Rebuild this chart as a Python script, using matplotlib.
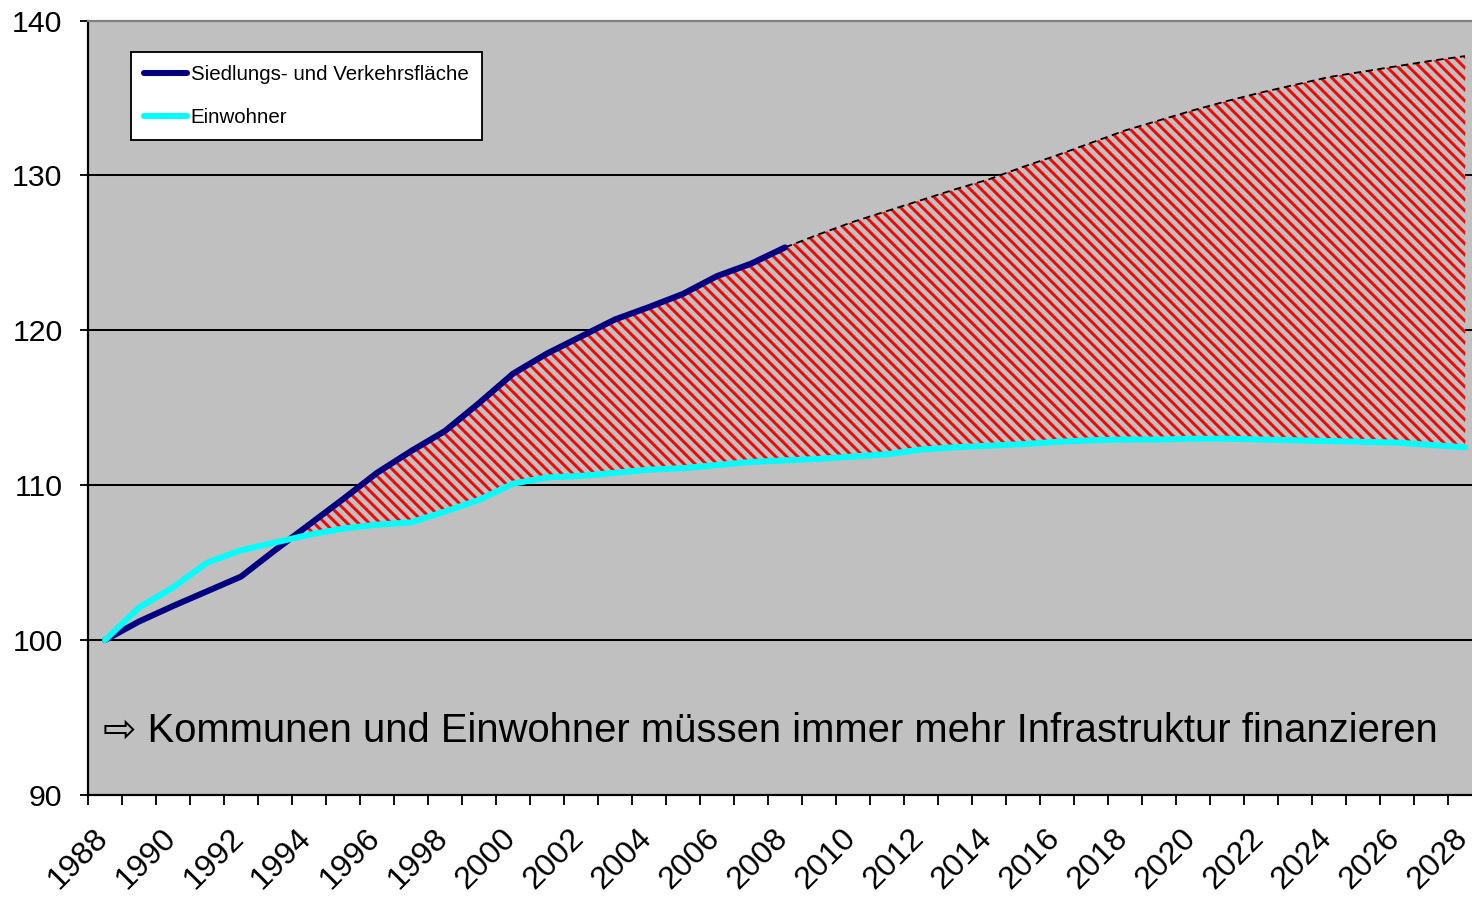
import numpy as np
import matplotlib
matplotlib.use("Agg")
import matplotlib.pyplot as plt
import matplotlib.transforms as mtransforms

# Index 1988 = 100
jahre = list(range(1988, 2029))
jahre_ist = list(range(1988, 2009))
jahre_prognose = list(range(2008, 2029))

flaeche = [100.0, 101.2, 102.2, 103.15, 104.1, 105.8, 107.45, 109.1, 110.8, 112.2,
           113.5, 115.3, 117.2, 118.5, 119.6, 120.7, 121.5, 122.35, 123.5, 124.3, 125.35]

flaeche_prognose = [125.35, 126.2, 127.0, 127.7, 128.4, 129.1, 129.75, 130.55, 131.3, 132.1,
                    132.9, 133.55, 134.2, 134.8, 135.35, 135.85, 136.35, 136.7, 137.05, 137.4, 137.7]

einwohner = [100.0, 102.1, 103.4, 105.0, 105.8, 106.3, 106.8, 107.2, 107.45, 107.6,
             108.3, 109.05, 110.1, 110.5, 110.6, 110.8, 111.0, 111.1, 111.3, 111.5,
             111.6, 111.7, 111.85, 112.0, 112.3, 112.45, 112.55, 112.65, 112.8, 112.9,
             112.95, 112.95, 113.0, 113.0, 112.95, 112.9, 112.85, 112.8, 112.75, 112.6, 112.45]

label_flaeche = "Siedlungs- und Verkehrsfläche"
label_einwohner = "Einwohner"
hinweis = "\u21e8 Kommunen und Einwohner müssen immer mehr Infrastruktur finanzieren"

plt.rcParams['font.family'] = ['Liberation Sans', 'DejaVu Sans']
plt.rcParams['hatch.color'] = 'red'
plt.rcParams['hatch.linewidth'] = 1.6

dpi = 132
fig = plt.figure(figsize=(1472 / dpi, 900 / dpi), dpi=dpi)
ax = fig.add_axes([88 / 1472, 1 - 795 / 900, (1482 - 88) / 1472, (795 - 20.5) / 900])
ax.set_facecolor('#C0C0C0')

# schraffierte Flaeche zwischen Flaeche (Ist + Prognose) und Einwohnern
oben = np.array(flaeche[:-1] + flaeche_prognose)
unten = np.array(einwohner)
ax.fill_between(jahre, unten, oben, where=oben >= unten, interpolate=True,
                facecolor='#C0C0C0', edgecolor='red', hatch='\\\\\\\\', linewidth=0, zorder=2)

ax.plot(jahre_prognose, flaeche_prognose, color='black', lw=1.0, dashes=(4, 2.5), zorder=3)
ax.plot(jahre_ist, flaeche, color='#000080', lw=3.3, solid_capstyle='round', zorder=4,
        label=label_flaeche)
ax.plot(jahre, einwohner, color='#00FFFF', lw=3.3, solid_capstyle='round', zorder=4,
        label=label_einwohner)

ax.set_ylim(90, 140)
ax.set_xlim(1987.5, 2028.5)

ax.set_yticks(range(90, 141, 10))
ax.yaxis.grid(True, color='black', lw=1.1)
ax.set_axisbelow(True)
ax.tick_params(axis='y', length=4.4, width=1.0, labelsize=16.5, pad=9.5)

ax.set_xticks(np.arange(1987.5, 2028.6, 1.0), minor=True)
ax.set_xticks(jahre[::2])
ax.set_xticklabels([str(j) for j in jahre[::2]], rotation=45, ha='right', va='center',
                   rotation_mode='anchor')
ax.tick_params(axis='x', which='major', length=0, labelsize=17.5, pad=21)
ax.tick_params(axis='x', which='minor', length=5.5, width=1.0)
versatz = mtransforms.ScaledTranslation(-2 / dpi, 0, fig.dpi_scale_trans)
for t in ax.get_xticklabels():
    t.set_transform(t.get_transform() + versatz)

for s in ['left', 'bottom']:
    ax.spines[s].set_color('black')
    ax.spines[s].set_linewidth(1.2)
ax.spines['top'].set_color('#808080')
ax.spines['top'].set_linewidth(1.2)
ax.spines['right'].set_visible(False)

leg = ax.legend(loc='upper left', bbox_to_anchor=(131 / 1472, 1 - 52 / 900),
                bbox_transform=fig.transFigure, borderaxespad=0, fancybox=False,
                framealpha=1, edgecolor='black', fontsize=11.2, handlelength=2.1,
                handletextpad=0.15, labelspacing=1.15, borderpad=0.65)
leg.get_frame().set_linewidth(1.0)

ax.text(103 / 1472, 1 - 741.5 / 900, hinweis, transform=fig.transFigure,
        fontsize=21.8, va='baseline', ha='left', zorder=5)

fig.savefig('out.png', dpi=dpi)
